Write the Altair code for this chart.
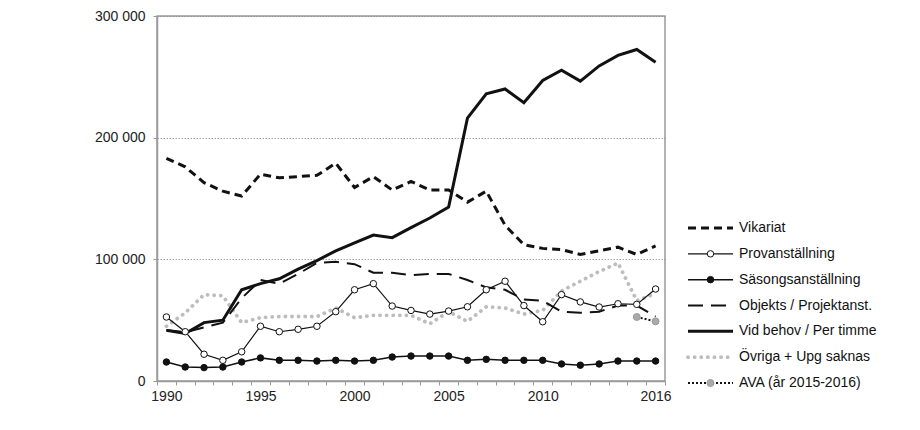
import altair as alt
import pandas as pd

# ---------------- data ----------------
years = list(range(1990, 2017))

series_names = [
    "Vikariat",
    "Provanställning",
    "Säsongsanställning",
    "Objekts / Projektanst.",
    "Vid behov / Per timme",
    "Övriga + Upg saknas",
    "AVA (år 2015-2016)",
]

vikariat = [183000, 176000, 163000, 156000, 152000, 170000, 167000, 168000, 169000,
            179000, 159000, 168000, 157000, 164000, 157000, 157000, 147000, 156000,
            128000, 112000, 109000, 108000, 104000, 107000, 110000, 104000, 111000]
provan = [52600, 40500, 22000, 17000, 24000, 45000, 40500, 42500, 45000, 57000,
          75000, 80000, 61600, 58000, 55000, 57500, 61000, 75000, 82000, 62000,
          48700, 71000, 65000, 60800, 63500, 63000, 75600]
sasong = [15600, 11500, 11000, 11500, 15600, 19000, 17000, 17000, 16400, 17000,
          16400, 17000, 19700, 20500, 20500, 20500, 17000, 17800, 17000, 17000,
          17000, 14000, 13000, 14000, 16400, 16400, 16400]
objekts = [42000, 40000, 44000, 48000, 68000, 83000, 80000, 88000, 97000, 98000,
           96000, 89000, 89000, 87000, 88000, 88000, 83000, 77000, 75000, 67000,
           66000, 57000, 56000, 57000, 62000, 62000, 53000]
vidbehov = [41600, 39000, 48000, 50000, 75000, 80000, 84000, 92000, 99000, 107000,
            113600, 120000, 117800, 126000, 134000, 143000, 216000, 236000, 240000,
            228700, 247000, 255500, 246500, 259000, 267600, 272500, 262000]
ovriga = [45000, 56000, 71000, 70000, 48000, 52000, 53000, 53000, 53000, 60000,
          52000, 54000, 54000, 54000, 47000, 57000, 49000, 61000, 60000, 55000,
          58000, 74000, 82000, 90000, 97000, 66000, 72000]
ava_years = [2015, 2016]
ava = [52600, 49000]

y_ticks = [0, 100000, 200000, 300000]
x_label_years = [1990, 1995, 2000, 2005, 2010, 2016]

# ---------------- tables ----------------
rows = []
for name, vals in zip(series_names[:6], [vikariat, provan, sasong, objekts, vidbehov, ovriga]):
    for yr, v in zip(years, vals):
        rows.append({"year": yr, "series": name, "value": v})
for yr, v in zip(ava_years, ava):
    rows.append({"year": yr, "series": series_names[6], "value": v})
df = pd.DataFrame(rows)

legend_df = pd.DataFrame({"series": series_names, "x0": 0.0, "x1": 1.0, "xm": 0.5})

# ---------------- styles ----------------
BLACK = "#111111"
GREY = "#bdbdbd"
line_style = {
    "Vikariat": dict(color=BLACK, strokeWidth=3, strokeDash=[8, 5]),
    "Provanställning": dict(color=BLACK, strokeWidth=1.2),
    "Säsongsanställning": dict(color=BLACK, strokeWidth=1.5),
    "Objekts / Projektanst.": dict(color=BLACK, strokeWidth=2, strokeDash=[15, 8]),
    "Vid behov / Per timme": dict(color=BLACK, strokeWidth=3),
    "Övriga + Upg saknas": dict(color=GREY, strokeWidth=3.8, strokeDash=[0.1, 6.5], strokeCap="round"),
    "AVA (år 2015-2016)": dict(color=BLACK, strokeWidth=2, strokeDash=[2, 2]),
}
marker_style = {
    "Provanställning": dict(fill="white", stroke=BLACK, strokeWidth=1, size=42),
    "Säsongsanställning": dict(fill=BLACK, stroke=BLACK, strokeWidth=1, size=42),
    "AVA (år 2015-2016)": dict(fill="#aaaaaa", stroke="#9a9a9a", strokeWidth=1, size=48),
}
draw_order = [
    "Övriga + Upg saknas",
    "Objekts / Projektanst.",
    "Vikariat",
    "Vid behov / Per timme",
    "Provanställning",
    "Säsongsanställning",
    "AVA (år 2015-2016)",
]

FONT = "Liberation Sans"
FS = 14
PLOT_W, PLOT_H = 508, 365
half_year_px = PLOT_W / 27 / 2

x_enc = alt.X(
    "year:Q",
    scale=alt.Scale(domain=[1989.5, 2016.5], nice=False, zero=False),
    axis=alt.Axis(
        values=[y - 0.5 for y in years] + [years[-1] + 0.5],
        labelExpr="indexof(%s, datum.value + 0.5) >= 0 ? '' + (datum.value + 0.5) : ''"
        % str(x_label_years),
        labelOffset=half_year_px,
        labelOverlap=False,
        labelBound=False,
        labelFlush=False,
        labelPadding=4,
        grid=False,
        title=None,
    ),
)
y_enc = alt.Y(
    "value:Q",
    scale=alt.Scale(domain=[0, 300000], nice=False),
    axis=alt.Axis(
        values=y_ticks,
        labelExpr="replace(format(datum.value, ','), ',', ' ')",
        labelPadding=8,
        grid=True,
        gridColor="#8a8a8a",
        gridDash=[1.5, 1.5],
        gridWidth=0.8,
        title=None,
    ),
)

base = alt.Chart(df)
layers = []
for name in draw_order:
    layers.append(
        base.transform_filter(alt.datum.series == name)
        .mark_line(**line_style[name])
        .encode(x=x_enc, y=y_enc)
    )
for name in ["Provanställning", "Säsongsanställning", "AVA (år 2015-2016)"]:
    layers.append(
        base.transform_filter(alt.datum.series == name)
        .mark_point(shape="circle", filled=True, opacity=1, **marker_style[name])
        .encode(x=x_enc, y=y_enc)
    )
main = alt.layer(*layers).properties(width=PLOT_W, height=PLOT_H)

# ---------------- legend panel ----------------
lx = alt.X("x0:Q", scale=alt.Scale(domain=[0, 1], nice=False), axis=None)
ly = alt.Y("series:N",
           scale=alt.Scale(type="point", domain=series_names, range=[212, 367], padding=0),
           axis=None)
lbase = alt.Chart(legend_df)
leg_layers = []
for name in series_names:
    leg_layers.append(
        lbase.transform_filter(alt.datum.series == name)
        .mark_rule(**line_style[name])
        .encode(x=lx, x2="x1:Q", y=ly)
    )
for name in ["Provanställning", "Säsongsanställning", "AVA (år 2015-2016)"]:
    leg_layers.append(
        lbase.transform_filter(alt.datum.series == name)
        .mark_point(shape="circle", filled=True, opacity=1, **marker_style[name])
        .encode(x=alt.X("xm:Q", scale=alt.Scale(domain=[0, 1]), axis=None), y=ly)
    )
leg_layers.append(
    lbase.mark_text(align="left", baseline="middle", dx=6, font=FONT, fontSize=FS, color="#111")
    .encode(x=alt.X("x1:Q", scale=alt.Scale(domain=[0, 1]), axis=None), y=ly, text="series:N")
)
legend = alt.layer(*leg_layers).properties(
    width=45, height=PLOT_H, view=alt.ViewBackground(stroke=None)
)

chart = (
    alt.hconcat(main, legend, spacing=10)
    .properties(padding={"left": 85, "top": 0, "right": 0, "bottom": 0})
    .configure_view(stroke="#9a9a9a", strokeWidth=1.5)
    .configure_axis(
        domainColor="#9a9a9a",
        domainWidth=1.5,
        tickColor="#9a9a9a",
        tickSize=4,
        tickWidth=1,
        labelFont=FONT,
        labelFontSize=FS,
        labelColor="#222222",
    )
)

chart.save("out.html", embed_options={"renderer": "svg", "actions": False})
